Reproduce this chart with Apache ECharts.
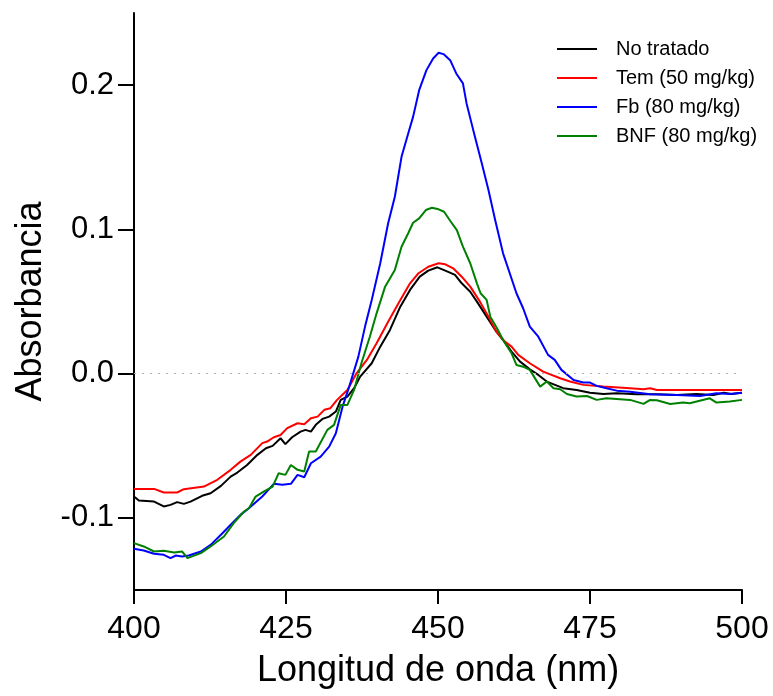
<!DOCTYPE html>
<html style="height: 100%">
<head>
    <meta charset="utf-8">
</head>
<body style="height: 100%; margin: 0; background: #fff">
    <div id="container" style="width: 773px; height: 696px"></div>
    <script type="text/javascript" src="https://cdn.jsdelivr.net/npm/echarts@6/dist/echarts.min.js"></script>
    <script type="text/javascript">
// [longitud de onda (nm), absorbancia]
var seriesNames = ['No tratado', 'Tem (50 mg/kg)', 'Fb (80 mg/kg)', 'BNF (80 mg/kg)'];
var yTicks = [-0.1, 0.0, 0.1, 0.2];
var xTicks = [400, 425, 450, 475, 500];

var noTratado = [
    [400, -0.0852], [400.8, -0.0880], [403.3, -0.0887], [404.9, -0.0921], [406, -0.0910],
    [407.1, -0.0891], [408.2, -0.0903], [409.3, -0.0887], [411.2, -0.0847], [412.6, -0.0829],
    [414.3, -0.0778], [415.9, -0.0714], [417, -0.0686], [418.6, -0.0633], [420.3, -0.0563],
    [421.7, -0.0517], [422.8, -0.0501], [424.1, -0.0448], [424.9, -0.0489], [426, -0.0441],
    [427.4, -0.0402], [428.2, -0.0390], [429.1, -0.0402], [429.9, -0.0355], [431, -0.0314],
    [432.1, -0.0298], [433.2, -0.0263], [434, -0.0182], [435.1, -0.0159], [436.2, -0.0101],
    [437.2, -0.0021], [439.1, 0.0072], [440.5, 0.0187], [442.1, 0.0303], [443.8, 0.0464],
    [445.4, 0.0580], [447, 0.0672], [448.4, 0.0714], [449.9, 0.0737], [451.2, 0.0714],
    [452.8, 0.0684], [453.9, 0.0626], [455.3, 0.0568], [456.4, 0.0499], [458, 0.0395],
    [459.6, 0.0291], [460.7, 0.0233], [462.1, 0.0152], [463.5, 0.0083], [465.1, 0.0030],
    [466.5, -0.0009], [467.9, -0.0055], [470.6, -0.0101], [472.8, -0.0113], [475, -0.0132],
    [477.2, -0.0141], [479.4, -0.0136], [482.7, -0.0143], [486, -0.0143], [489.3, -0.0148],
    [492.5, -0.0141], [495.3, -0.0148], [497, -0.0132], [498.3, -0.0141], [500, -0.0132]
];
var tem = [
    [400, -0.0799], [403.3, -0.0799], [404.9, -0.0824], [407.1, -0.0824], [408.2, -0.0801],
    [411.5, -0.0783], [413.7, -0.0736], [415.9, -0.0667], [417.5, -0.0610], [419.2, -0.0563],
    [421.1, -0.0482], [421.9, -0.0471], [423, -0.0441], [424.1, -0.0425], [425.2, -0.0378],
    [426.9, -0.0344], [428, -0.0351], [429.1, -0.0309], [430.2, -0.0298], [431.3, -0.0251],
    [432.3, -0.0240], [433.4, -0.0182], [435.1, -0.0113], [436.6, 0.0002], [438.3, 0.0095],
    [439.9, 0.0211], [441.8, 0.0360], [443.5, 0.0488], [445.4, 0.0626], [446.8, 0.0696],
    [448.4, 0.0741], [450.1, 0.0765], [451.2, 0.0758], [452.5, 0.0730], [453.9, 0.0672],
    [455.3, 0.0603], [456.9, 0.0499], [458.3, 0.0395], [459.6, 0.0291], [461, 0.0222],
    [462.1, 0.0187], [463.2, 0.0130], [465.1, 0.0072], [467.3, 0.0014], [470.1, -0.0032],
    [471.7, -0.0055], [473.9, -0.0078], [477.2, -0.0090], [481.6, -0.0101], [483.8, -0.0108],
    [484.9, -0.0101], [486, -0.0113], [500, -0.0113]
];
var fb = [
    [400, -0.1214], [401.6, -0.1226], [403.3, -0.1249], [404.9, -0.1256], [406, -0.1279],
    [406.9, -0.1261], [407.9, -0.1268], [409, -0.1261], [411, -0.1233], [412.6, -0.1187],
    [414.3, -0.1117], [415.9, -0.1048], [417.5, -0.0979], [418.9, -0.0933], [421.1, -0.0852],
    [423, -0.0764], [424.4, -0.0771], [425.8, -0.0764], [426.9, -0.0702], [428, -0.0718],
    [429.1, -0.0621], [430.7, -0.0575], [432.1, -0.0506], [433.2, -0.0413], [434.3, -0.0229],
    [435.4, -0.0090], [436.9, 0.0118], [438, 0.0326], [439.1, 0.0511], [440.5, 0.0765],
    [441.8, 0.1042], [442.9, 0.1226], [444, 0.1503], [445.1, 0.1665], [445.9, 0.1780],
    [446.9, 0.1965], [448.1, 0.2104], [449.2, 0.2185], [450.1, 0.2224], [450.9, 0.2215],
    [452, 0.2173], [453, 0.2081], [454.1, 0.2012], [454.7, 0.1873], [455.8, 0.1688],
    [457.2, 0.1458], [458.3, 0.1273], [459.4, 0.1065], [460.7, 0.0834], [461.8, 0.0696],
    [462.9, 0.0557], [464, 0.0453], [465.1, 0.0326], [466.5, 0.0256], [468.1, 0.0130],
    [469.2, 0.0095], [470.3, 0.0026], [472.3, -0.0044], [473.9, -0.0062], [475, -0.0062],
    [476.1, -0.0085], [477.7, -0.0101], [479.4, -0.0118], [481.6, -0.0125], [484.9, -0.0143],
    [489.3, -0.0148], [493.1, -0.0155], [495.8, -0.0136], [498, -0.0141], [500, -0.0132]
];
var bnf = [
    [400, -0.1175], [401.6, -0.1198], [403.3, -0.1233], [404.9, -0.1228], [406.6, -0.1240],
    [407.9, -0.1233], [408.8, -0.1279], [411, -0.1244], [412.6, -0.1198], [414.8, -0.1129],
    [416.4, -0.1037], [418.1, -0.0956], [418.9, -0.0933], [420, -0.0852], [421.4, -0.0817],
    [422.8, -0.0783], [423.8, -0.0690], [424.9, -0.0702], [425.8, -0.0633], [426.9, -0.0667],
    [428, -0.0679], [428.8, -0.0540], [429.9, -0.0540], [431.8, -0.0390], [432.9, -0.0355],
    [434, -0.0217], [435.1, -0.0217], [436.2, -0.0113], [437.4, 0.0072], [438.8, 0.0257],
    [439.9, 0.0418], [441.3, 0.0603], [442.9, 0.0718], [444, 0.0880], [445.1, 0.0973],
    [445.9, 0.1046], [446.9, 0.1076], [448, 0.1134], [449, 0.1150], [450.1, 0.1139],
    [451, 0.1122], [452, 0.1060], [453.1, 0.0995], [454.1, 0.0880], [455.3, 0.0765],
    [456.4, 0.0626], [457, 0.0557], [458, 0.0511], [458.6, 0.0395], [459.7, 0.0315],
    [460.7, 0.0233], [462.1, 0.0141], [462.9, 0.0060], [464, 0.0048], [465.1, 0.0026],
    [466.8, -0.0090], [467.9, -0.0055], [469, -0.0101], [470.1, -0.0108], [471.2, -0.0141],
    [472.8, -0.0159], [474.5, -0.0155], [476.1, -0.0182], [477.7, -0.0171], [481.6, -0.0182],
    [483.8, -0.0210], [484.9, -0.0182], [486, -0.0185], [488.2, -0.0210], [490.3, -0.0201],
    [491.4, -0.0205], [494.7, -0.0171], [495.8, -0.0201], [498, -0.0194], [500, -0.0182]
];
var colors = ['#000000', '#ff0000', '#0000ff', '#008000'];

var dom = document.getElementById("container");
var myChart = echarts.init(dom);
var font = 'Liberation Sans, Arial, sans-serif';

var makeLine = function (name, data, color) {
    return {
        name: name,
        type: 'line',
        data: data,
        symbol: 'none',
        smooth: false,
        lineStyle: { color: color, width: 2 },
        itemStyle: { color: color },
        emphasis: { disabled: true }
    };
};

var series = [
    makeLine(seriesNames[0], noTratado, colors[0]),
    makeLine(seriesNames[1], tem, colors[1]),
    makeLine(seriesNames[2], fb, colors[2]),
    makeLine(seriesNames[3], bnf, colors[3])
];
// linea punteada en cero
series[0].markLine = {
    silent: true,
    symbol: 'none',
    label: { show: false },
    lineStyle: { color: '#b0b0b0', type: [2, 6], width: 1 },
    data: [{ yAxis: 0 }]
};

var option = {
    animation: false,
    backgroundColor: '#fff',
    grid: { left: 134, right: 31, top: 13, bottom: 106 },
    legend: {
        orient: 'vertical',
        left: 552,
        top: 34,
        icon: 'rect',
        itemWidth: 40,
        itemHeight: 2,
        itemGap: 9,
        data: seriesNames,
        textStyle: { fontFamily: font, fontSize: 20, color: '#000', lineHeight: 20, padding: [0, 0, 0, 14] }
    },
    xAxis: {
        type: 'value',
        min: 400,
        max: 500,
        interval: 25,
        name: 'Longitud de onda (nm)',
        nameLocation: 'middle',
        nameGap: 63,
        nameTextStyle: { fontFamily: font, fontSize: 36, color: '#000' },
        axisLine: { onZero: false, lineStyle: { color: '#000', width: 2 } },
        axisTick: { length: 14, lineStyle: { color: '#000', width: 2 }, customValues: xTicks },
        axisLabel: { fontFamily: font, fontSize: 32, color: '#000', margin: 23, customValues: xTicks },
        splitLine: { show: false }
    },
    yAxis: {
        type: 'value',
        min: -0.15,
        max: 0.25,
        name: 'Absorbancia',
        nameLocation: 'middle',
        nameGap: 85,
        nameTextStyle: { fontFamily: font, fontSize: 36, color: '#000' },
        axisLine: { show: true, lineStyle: { color: '#000', width: 2 } },
        axisTick: { show: true, length: 16, lineStyle: { color: '#000', width: 2 }, customValues: yTicks },
        axisLabel: {
            fontFamily: font, fontSize: 31, color: '#000', margin: 20, customValues: yTicks,
            formatter: function (v) { return v.toFixed(1); }
        },
        splitLine: { show: false }
    },
    series: series
};
if (option && typeof option === "object") {
    myChart.setOption(option, true);
}
</script>
</body>
</html>
